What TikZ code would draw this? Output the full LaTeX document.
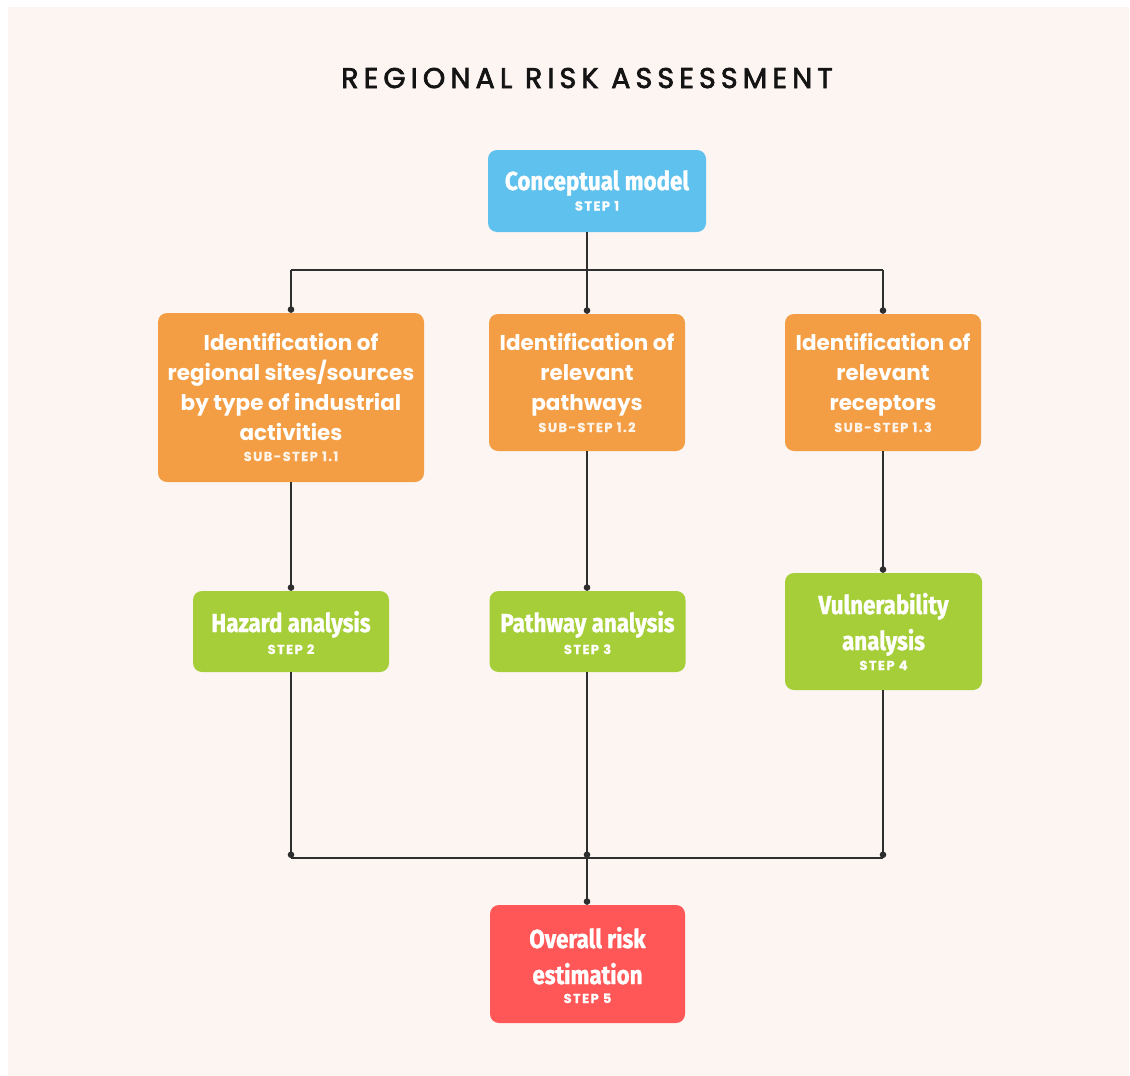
\documentclass[tikz,border=0pt]{standalone}
\usepackage{fontspec}
\setmainfont{Poppins}
\newfontfamily\headfont[FakeStretch=0.86,FakeBold=1.2]{Fira Sans}
\newfontfamily\titlefont[LetterSpace=18,FakeBold=2.5]{Poppins}
\newfontfamily\lblfont[LetterSpace=11,FakeBold=0.8]{Poppins}
\usetikzlibrary{arrows.meta}
\definecolor{bg}{HTML}{FDF5F2}
\definecolor{cblue}{HTML}{5FC1EE}
\definecolor{corange}{HTML}{F39E45}
\definecolor{cgreen}{HTML}{A6CE39}
\definecolor{cred}{HTML}{FF5757}
\definecolor{cline}{HTML}{2E2E2E}
\begin{document}
\begin{tikzpicture}[x=1pt,y=-1pt,
  box/.style={rounded corners=9pt, draw=none, inner sep=0pt},
  head/.style={text=white, inner sep=0pt, anchor=base, align=center,
    font=\headfont\bfseries\fontsize{26}{36}\selectfont},
  orhead/.style={text=white, inner sep=0pt, anchor=base, align=center,
    font=\bfseries\fontsize{21.5}{30}\selectfont},
  lbl/.style={text=white, inner sep=0pt, anchor=base,
    font=\lblfont\bfseries\fontsize{13}{13}\selectfont},
  line/.style={draw=cline, line width=1.3pt},
  arr/.style={line, -{Circle[length=6.5pt]}}
]
\useasboundingbox (0,0) rectangle (1130,1076);
\fill[white] (0,0) rectangle (1130,1076);
\fill[bg] (8,7) rectangle (1129,1076);

\node[inner sep=0pt, anchor=base, text=black!92, font=\titlefont\fontsize{28.5}{30}\selectfont] (title) at (587,88) {REGIONAL RISK ASSESSMENT};

% boxes
\node[box, fill=cblue, minimum width=218pt, minimum height=82pt] (c) at (597,191) {};
\node[box, fill=corange, minimum width=266pt, minimum height=169pt] (o1) at (291,397.5) {};
\node[box, fill=corange, minimum width=196pt, minimum height=137pt] (o2) at (587,382.5) {};
\node[box, fill=corange, minimum width=196pt, minimum height=137pt] (o3) at (883,382.5) {};
\node[box, fill=cgreen, minimum width=196pt, minimum height=81pt] (g1) at (291,631.5) {};
\node[box, fill=cgreen, minimum width=196pt, minimum height=81pt] (g2) at (587.5,631.5) {};
\node[box, fill=cgreen, minimum width=197pt, minimum height=117pt] (g3) at (883.5,631.5) {};
\node[box, fill=cred, minimum width=195pt, minimum height=118pt] (r) at (587.5,964) {};

% texts (anchor base = baseline of last line)
\node[head] (ct) at (597,190) {Conceptual model};
\node[lbl] (cl) at (597,210.5) {STEP 1};

\node[orhead] (o1t) at (291,440) {Identification of\\regional sites/sources\\by type of industrial\\activities};
\node[lbl, text=white!88!corange] (o1l) at (291,461) {SUB-STEP 1.1};
\node[orhead] (o2t) at (587,410) {Identification of\\relevant\\pathways};
\node[lbl, text=white!88!corange] (o2l) at (587,432) {SUB-STEP 1.2};
\node[orhead] (o3t) at (883,410) {Identification of\\relevant\\receptors};
\node[lbl, text=white!88!corange] (o3l) at (883,432) {SUB-STEP 1.3};

\node[head] (g1t) at (291,632) {Hazard analysis};
\node[lbl] (g1l) at (291,654) {STEP 2};
\node[head] (g2t) at (587.5,632) {Pathway analysis};
\node[lbl] (g2l) at (587.5,654) {STEP 3};
\node[head] (g3t) at (883.5,650) {Vulnerability\\analysis};
\node[lbl] (g3l) at (883.5,670) {STEP 4};

\node[head] (rt) at (587.5,984) {Overall risk\\estimation};
\node[lbl] (rl) at (587.5,1003) {STEP 5};

% connectors
\coordinate (b1) at (587,270);
\coordinate (b2) at (587,858);
\draw[line] (c.south -| o2.north) -- (b1);
\draw[line] (b1 -| o1.north) -- (b1 -| o3.north);
\draw[arr] (b1 -| o1.north) -- (o1.north);
\draw[arr] (b1) -- (o2.north);
\draw[arr] (b1 -| o3.north) -- (o3.north);
\draw[arr] (o1.south) -- (g1.north);
\draw[arr] (o2.south) -- (o2.south |- g2.north);
\draw[arr] (o3.south) -- (o3.south |- g3.north);
\draw[arr] (g1.south) -- (g1.south |- b2);
\draw[arr] (g2.south -| b2) -- (b2);
\draw[arr] (g3.south -| o3.south) -- (o3.south |- b2);
\draw[line] (b2 -| g1.south) -- (b2 -| o3.south);
\draw[arr] (b2) -- (b2 |- r.north);
\end{tikzpicture}
\end{document}
